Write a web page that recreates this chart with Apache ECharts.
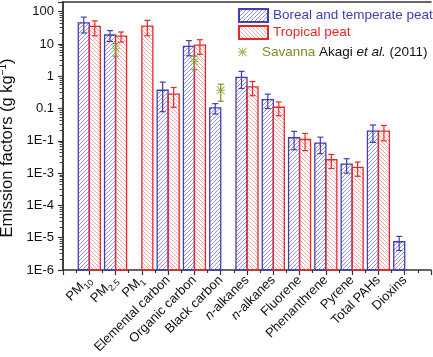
<!DOCTYPE html>
<html>
<head>
<meta charset="utf-8">
<script src="https://cdn.jsdelivr.net/npm/echarts@6/dist/echarts.min.js"></script>
<style>
  html, body { margin: 0; padding: 0; background: #fff; }
  #chart { width: 433px; height: 357px; }
</style>
</head>
<body>
<div id="chart"></div>
<script>
// category slots 1..13 on an x range 0..14
var tickLabels = ['', 'PM{sub|10}', 'PM{sub|2.5}', 'PM{sub|1}', 'Elemental carbon', 'Organic carbon',
  'Black carbon', '{it|n}-alkanes', '{it|n}-alkanes', 'Fluorene', 'Phenanthrene', 'Pyrene', 'Total PAHs', 'Dioxins', ''];
var yTickLabels = ['1E-6', '1E-5', '1E-4', '1E-3', '1E-1', '0.1', '1', '10', '100'];

// values (g/kg) and error half-widths, index 0 = PM10 ... 12 = Dioxins
var borealVal = [45, 19, null, 0.37, 8.5, 0.105, 0.92, 0.19, 0.0125, 0.0085, 0.0019, 0.02, 0.0000075];
var borealErr = [23, 7, null, 0.29, 4.2, 0.037, 0.5, 0.09, 0.0072, 0.0045, 0.0009, 0.011, 0.0000035];
var tropicalVal = [35, 17.5, 36, 0.28, 9.2, null, 0.47, 0.11, 0.011, 0.0026, 0.0015, 0.02, null];
var tropicalErr = [17, 6, 18, 0.17, 4.4, null, 0.22, 0.05, 0.006, 0.0012, 0.0007, 0.01, null];
var savannaVal = [null, 7.2, null, null, 2.9, 0.37, null, null, null, null, null, null, null];
var savannaErr = [null, 3, null, null, 1.3, 0.2, null, null, null, null, null, null, null];

var Y_MIN = 1e-6, Y_MAX = 200;
var BAR_W = 11;
var BLUE = '#3e3eb6', RED = '#e42828', OLIVE = '#7f8c22', STAR = '#8e9c2c';
var starPath = 'path://M4.5 0H5.5V10H4.5Z M0 4.5H10V5.5H0Z M1 0.3L9.7 9L9 9.7L0.3 1Z M9 0.3L9.7 1L1 9.7L0.3 9Z';

function points(vals) {
  var out = [];
  vals.forEach(function (v, i) { if (v != null) out.push([i + 1, v]); });
  return out;
}
function errPoints(vals, errs) {
  var out = [];
  vals.forEach(function (v, i) { if (v != null) out.push([i + 1, v - errs[i], v + errs[i]]); });
  return out;
}
function hatch(color, rising) {
  var s = 4, c = document.createElement('canvas');
  c.width = c.height = s;
  var g = c.getContext('2d');
  g.strokeStyle = color; g.lineWidth = 1;
  g.beginPath();
  if (rising) {
    g.moveTo(-1, s + 1); g.lineTo(s + 1, -1);
    g.moveTo(-1, 1); g.lineTo(1, -1);
    g.moveTo(s - 1, s + 1); g.lineTo(s + 1, s - 1);
  } else {
    g.moveTo(-1, -1); g.lineTo(s + 1, s + 1);
    g.moveTo(s - 1, -1); g.lineTo(s + 1, 1);
    g.moveTo(-1, s - 1); g.lineTo(1, s + 1);
  }
  g.stroke();
  return { image: c, repeat: 'repeat' };
}
// log axis bars would start at 1, so draw them from the axis minimum
function barSeries(name, vals, offset, fill, stroke) {
  return {
    type: 'custom', name: name, z: 3,
    encode: { x: 0, y: 1 },
    data: points(vals),
    itemStyle: { color: fill, borderColor: stroke, borderWidth: 1.3 },
    renderItem: function (params, api) {
      var top = api.coord([api.value(0), api.value(1)]);
      var bot = api.coord([api.value(0), Y_MIN]);
      var x0 = top[0] + offset - BAR_W / 2;
      return { type: 'rect',
        shape: { x: x0, y: top[1], width: BAR_W, height: bot[1] - top[1] },
        style: { fill: fill, stroke: stroke, lineWidth: 1.3 } };
    }
  };
}
function errorSeries(name, vals, errs, offset, color) {
  return {
    type: 'custom', name: name, z: 5, silent: true,
    encode: { x: 0, y: [1, 2] },
    data: errPoints(vals, errs),
    renderItem: function (params, api) {
      var lo = api.coord([api.value(0), api.value(1)]);
      var hi = api.coord([api.value(0), api.value(2)]);
      var x = lo[0] + offset, w = 3;
      var st = { stroke: color, lineWidth: 1.2 };
      return { type: 'group', children: [
        { type: 'line', shape: { x1: x, y1: hi[1], x2: x, y2: lo[1] }, style: st },
        { type: 'line', shape: { x1: x - w, y1: hi[1], x2: x + w, y2: hi[1] }, style: st },
        { type: 'line', shape: { x1: x - w, y1: lo[1], x2: x + w, y2: lo[1] }, style: st }
      ] };
    }
  };
}

var chart = echarts.init(document.getElementById('chart'));
var axisLine = { show: true, lineStyle: { color: '#333', width: 1.5 } };
var font = 'Liberation Sans';

chart.setOption({
  animation: false,
  textStyle: { fontFamily: font },
  grid: { left: 63, right: 2, top: 2, bottom: 87, outerBoundsMode: 'none' },
  legend: [{
    orient: 'vertical', left: 233, top: 3, itemWidth: 29, itemHeight: 13, itemGap: 2, icon: 'rect',
    textStyle: { fontSize: 13.5, fontFamily: font },
    data: [
      { name: 'Boreal and temperate peat', textStyle: { color: BLUE } },
      { name: 'Tropical peat', textStyle: { color: RED } }
    ]
  }, {
    orient: 'vertical', left: 233, top: 40, itemWidth: 29, itemHeight: 9,
    textStyle: { fontSize: 13.5, fontFamily: font, color: OLIVE,
      rich: { k: { color: '#111', fontSize: 13.5 }, ki: { color: '#111', fontSize: 13.5, fontStyle: 'italic' } } },
    formatter: function () { return 'Savanna {k|Akagi} {ki|et al.} {k|(2011)}'; },
    data: ['Savanna']
  }],
  xAxis: [{
    type: 'value', min: 0, max: 14, interval: 1,
    axisLine: axisLine, splitLine: { show: false },
    axisTick: { length: 5, lineStyle: { color: '#333', width: 1.2 } },
    minorTick: { show: true, splitNumber: 2, length: 3, lineStyle: { color: '#333', width: 1.2 } },
    axisLabel: {
      rotate: 45, margin: 8, fontSize: 13, color: '#111', showMinLabel: true, showMaxLabel: true,
      formatter: function (v) { return tickLabels[Math.round(v)] || ''; },
      rich: {
        sub: { fontSize: 9, verticalAlign: 'bottom', lineHeight: 18, color: '#111' },
        it: { fontStyle: 'italic', fontSize: 13, color: '#111' }
      }
    }
  }, {
    type: 'value', min: 0, max: 14, position: 'top',
    axisLine: axisLine, axisTick: { show: false }, axisLabel: { show: false }, splitLine: { show: false }
  }],
  yAxis: [{
    type: 'log', logBase: 10, min: Y_MIN, max: Y_MAX,
    axisLine: axisLine, splitLine: { show: false },
    axisTick: { length: 5, lineStyle: { color: '#333', width: 1.2 } },
    minorTick: { show: true, splitNumber: 8, length: 3.5, lineStyle: { color: '#444', width: 1 } },
    axisLabel: {
      fontSize: 13, color: '#111', margin: 9, showMaxLabel: false,
      formatter: function (v) {
        if (v > 150) return '';
        return yTickLabels[Math.round(Math.log10(v)) + 6] || '';
      }
    },
    name: 'Emission factors (g kg{sup|\u22121})', nameLocation: 'middle', nameGap: 43, nameRotate: 90,
    nameTextStyle: { fontSize: 16.5, color: '#111', padding: [0, 24, 0, 0],
      rich: { sup: { fontSize: 10, verticalAlign: 'top', lineHeight: 12, color: '#111' } } }
  }, {
    type: 'value', min: 0, max: 1, position: 'right',
    axisLine: axisLine, axisTick: { show: false }, axisLabel: { show: false }, splitLine: { show: false }
  }],
  series: [
    barSeries('Boreal and temperate peat', borealVal, -BAR_W / 2, hatch('#9494dc', true), BLUE),
    barSeries('Tropical peat', tropicalVal, BAR_W / 2, hatch('#f0aaaa', false), RED),
    errorSeries('errBoreal', borealVal, borealErr, -BAR_W / 2, BLUE),
    errorSeries('errTropical', tropicalVal, tropicalErr, BAR_W / 2, RED),
    errorSeries('errSavanna', savannaVal, savannaErr, 0, OLIVE),
    {
      name: 'Savanna', type: 'scatter', z: 6, symbol: starPath, symbolSize: 9, symbolKeepAspect: true,
      data: points(savannaVal), itemStyle: { color: STAR }
    }
  ]
});
</script>
</body>
</html>
